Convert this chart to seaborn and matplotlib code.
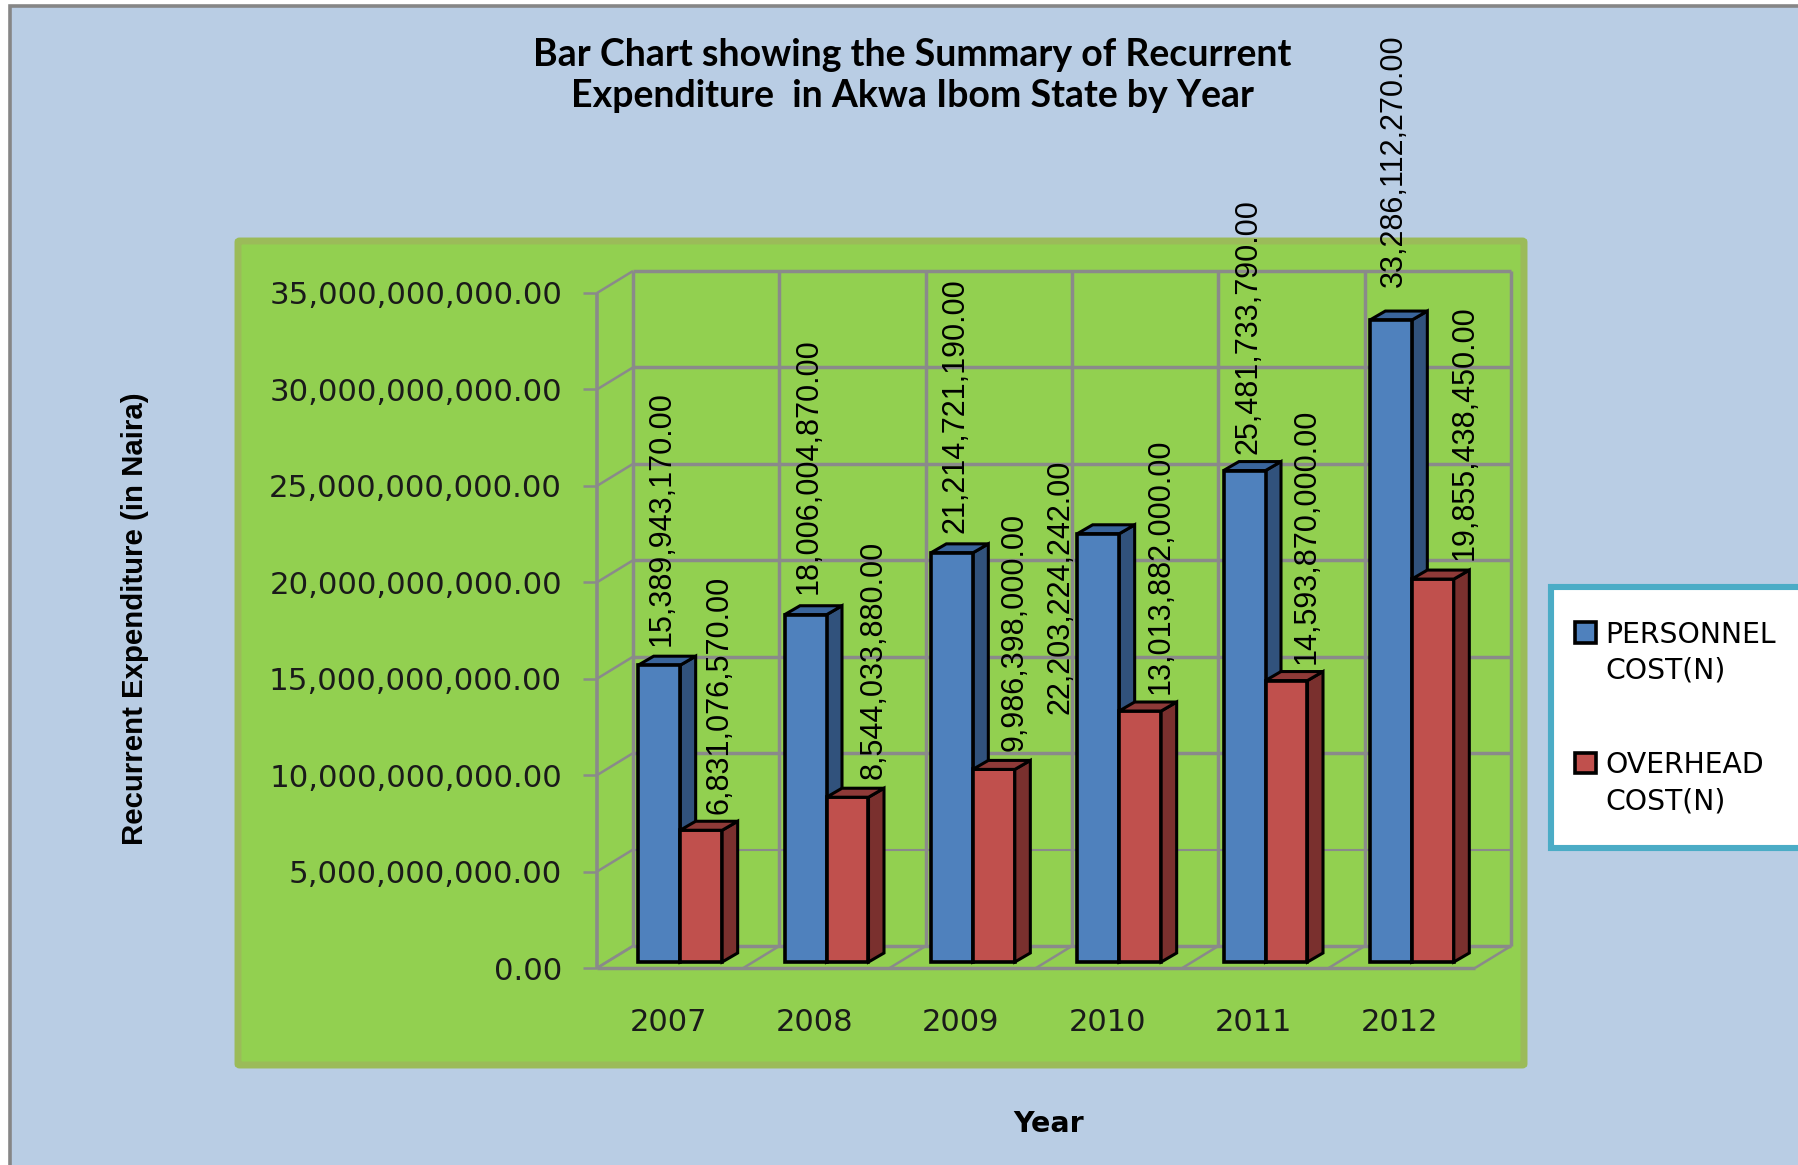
import matplotlib
matplotlib.use("Agg")
import matplotlib.pyplot as plt
import seaborn as sns
import pandas as pd
from matplotlib.patches import Rectangle, Polygon, Patch, FancyBboxPatch
from matplotlib.legend_handler import HandlerPatch
from matplotlib.transforms import ScaledTranslation

years = ["2007", "2008", "2009", "2010", "2011", "2012"]
personnel = [15389943170, 18006004870, 21214721190, 22203224242, 25481733790, 33286112270]
overhead = [6831076570, 8544033880, 9986398000, 13013882000, 14593870000, 19855438450]
series_names = ["PERSONNEL\nCOST(N)", "OVERHEAD\nCOST(N)"]
y_ticks = [0, 5e9, 10e9, 15e9, 20e9, 25e9, 30e9, 35e9]

# hand placement of each data label relative to its bar (pixels: right, up)
label_dx = [[2, 3, 4, -38, 4, 3], [18, 26, 21, 20, 20, 32]]
label_up = [[19, 21, 20, -180, 17, 33], [16, 18, 18, 17, 17, 19]]

W, H, DPI = 1798, 1165, 100
BG, GREEN, GREEN_EDGE = "#B9CDE4", "#92D050", "#9BBB59"
GRID = "#8A8A8A"
FRONT = ["#4F81BD", "#C0504D"]
SIDE = ["#31527C", "#7A302E"]
TOP = ["#3A659C", "#8E3A38"]

sns.set_style("white")
plt.rcParams["font.family"] = ["DejaVu Sans"]

fig = plt.figure(figsize=(W / DPI, H / DPI), dpi=DPI, facecolor="white")

def fx(px): return px / W
def fy(px): return 1 - px / H

# slide background and green chart area
fig.add_artist(Rectangle((fx(10), fy(H + 20)), fx(W + 20), (H + 20 - 6) / H, transform=fig.transFigure,
                         fc=BG, ec="#868686", lw=2.6, zorder=-3))
fig.add_artist(FancyBboxPatch((fx(238), fy(1065)), 1286 / W, 824 / H,
                              boxstyle="round,pad=0,rounding_size=0.001", transform=fig.transFigure,
                              fc=GREEN, ec=GREEN_EDGE, lw=5, zorder=-2))

# axes plane that holds the front faces of the bars
AX_L, AX_R, AX_B, AX_T = 607, 1485, 962, 287
ax = fig.add_axes([fx(AX_L), fy(AX_B), (AX_R - AX_L) / W, (AX_B - AX_T) / H])
ax.patch.set_alpha(0)

df = pd.DataFrame({
    "Year": years * 2,
    "Cost": personnel + overhead,
    "Series": [series_names[0]] * 6 + [series_names[1]] * 6,
})
sns.barplot(data=df, x="Year", y="Cost", hue="Series", hue_order=series_names, palette=FRONT,
            saturation=1, width=0.574, gap=0, edgecolor="black", linewidth=2.6, legend=False, ax=ax)
ax.set_xlim(-0.5, 5.5)
ax.set_ylim(0, 35e9)

px_x = (AX_R - AX_L) / 6       # pixels per category
px_y = (AX_B - AX_T) / 35e9    # pixels per naira
def dx(p): return p / px_x
def dy(p): return p / px_y

# 3D frame, in data units shifted by pixel offsets
FRONT_DX, FRONT_DY = -10, -6     # front plane relative to bar plane
BACK_DX, BACK_DY = 26, 16        # back wall relative to bar plane
edges = [i - 0.5 for i in range(len(years) + 1)]
left, right = edges[0], edges[-1]

def seg(xa, ya, xb, yb, lw=2.0):
    ax.plot([xa, xb], [ya, yb], color=GRID, lw=lw, clip_on=False, zorder=0.5, solid_capstyle="butt")

for v in y_ticks:
    yf, yb = v + dy(FRONT_DY), v + dy(BACK_DY)
    seg(left + dx(FRONT_DX), yf, left + dx(BACK_DX), yb, lw=1.8)                 # side wall
    seg(left + dx(FRONT_DX - 14), yf, left + dx(FRONT_DX), yf, lw=1.8)           # tick mark
    if v > 0:
        seg(left + dx(BACK_DX), yb, right + dx(BACK_DX), yb, lw=1.5 if v == 5e9 else 2.5)
seg(left + dx(FRONT_DX), dy(FRONT_DY), left + dx(FRONT_DX), 35e9 + dy(FRONT_DY), lw=2.6)
seg(left + dx(FRONT_DX), dy(FRONT_DY), right + dx(FRONT_DX), dy(FRONT_DY), lw=2.5)
seg(left + dx(BACK_DX), dy(BACK_DY), right + dx(BACK_DX), dy(BACK_DY), lw=2.5)
for e in edges:
    seg(e + dx(BACK_DX), dy(BACK_DY), e + dx(BACK_DX), 35e9 + dy(BACK_DY), lw=2.5)
    seg(e + dx(FRONT_DX), dy(FRONT_DY), e + dx(BACK_DX), dy(BACK_DY), lw=1.8)

# bar depth and data labels
BAR_DX, BAR_DY = 15.5, 9
for s, container in enumerate(ax.containers):
    z = 0.8 if s == 0 else 1.1
    for i, bar in enumerate(container):
        x0, x1, h = bar.get_x(), bar.get_x() + bar.get_width(), bar.get_height()
        ox, oy = dx(BAR_DX), dy(BAR_DY)
        for pts, col in (([(x1, 0), (x1 + ox, oy), (x1 + ox, h + oy), (x1, h)], SIDE[s]),
                         ([(x0, h), (x1, h), (x1 + ox, h + oy), (x0 + ox, h + oy)], TOP[s])):
            ax.add_patch(Polygon(pts, closed=True, fc=col, ec="black", lw=2.2, zorder=z, clip_on=False))
        bar.set_clip_on(False)
        ax.annotate(f"{h:,.2f}", xy=(bar.get_x() + bar.get_width() / 2, h),
                    xytext=(label_dx[s][i], label_up[s][i]), textcoords="offset pixels",
                    rotation=90, ha="center", va="bottom", color="black",
                    family="Liberation Sans", fontsize=22, annotation_clip=False, zorder=3)

# tick labels
ax.set_yticks(y_ticks)
ax.set_yticklabels([f"{v:,.2f}" for v in y_ticks])
ax.tick_params(axis="y", length=0, pad=45 * 72 / DPI, labelsize=22.2, labelcolor="#1a1a1a", left=False)
ax.tick_params(axis="x", length=0, pad=46 * 72 / DPI, labelsize=22, labelcolor="#1a1a1a", bottom=False)
for lab in ax.get_yticklabels():
    lab.set_transform(lab.get_transform() + ScaledTranslation(0, -6 / DPI, fig.dpi_scale_trans))
for lab in ax.get_xticklabels():
    lab.set_transform(lab.get_transform() + ScaledTranslation(-12 / DPI, 0, fig.dpi_scale_trans))
for sp in ax.spines.values():
    sp.set_visible(False)
ax.grid(False)

# axis titles and chart title
ax.set_xlabel("Year", fontsize=20.5, fontweight="bold", va="center", color="black")
ax.xaxis.set_label_coords((1049 - AX_L) / (AX_R - AX_L), (AX_B - 1124) / (AX_B - AX_T))
ax.set_ylabel("Recurrent Expenditure (in Naira)", fontsize=21.2, fontweight="bold",
              family="Liberation Sans", va="center", color="black")
ax.yaxis.set_label_coords((135 - AX_L) / (AX_R - AX_L), (AX_B - 619) / (AX_B - AX_T))
fig.text(fx(912), fy(75.5), "Bar Chart showing the Summary of Recurrent\nExpenditure  in Akwa Ibom State by Year",
         ha="center", va="center", family="Lato", fontweight="bold", fontsize=27, linespacing=1.26, color="black")

# legend
fig.add_artist(Rectangle((fx(1551), fy(848)), 260 / W, 261 / H, transform=fig.transFigure,
                         fc="white", ec="#4BACC6", lw=4.4, clip_on=False, zorder=2))

def first_line_patch(legend, orig_handle, xdescent, ydescent, width, height, fontsize):
    return Rectangle((-xdescent, -ydescent + 15.5), width, height)

handles = [Patch(fc=FRONT[i], ec="black", lw=2.6, label=series_names[i]) for i in range(2)]
leg = fig.legend(handles=handles, labels=series_names, loc="upper left",
                 bbox_to_anchor=(fx(1575), fy(621)), bbox_transform=fig.transFigure,
                 frameon=False, borderpad=0, borderaxespad=0, fontsize=20.3,
                 handlelength=0.75, handleheight=0.75, handletextpad=0.33, labelspacing=2.36,
                 labelcolor="black",
                 handler_map={Patch: HandlerPatch(patch_func=first_line_patch)})
for t in leg.get_texts():
    t.set_linespacing(1.36)

fig.savefig("out.png", dpi=DPI, facecolor="white")
